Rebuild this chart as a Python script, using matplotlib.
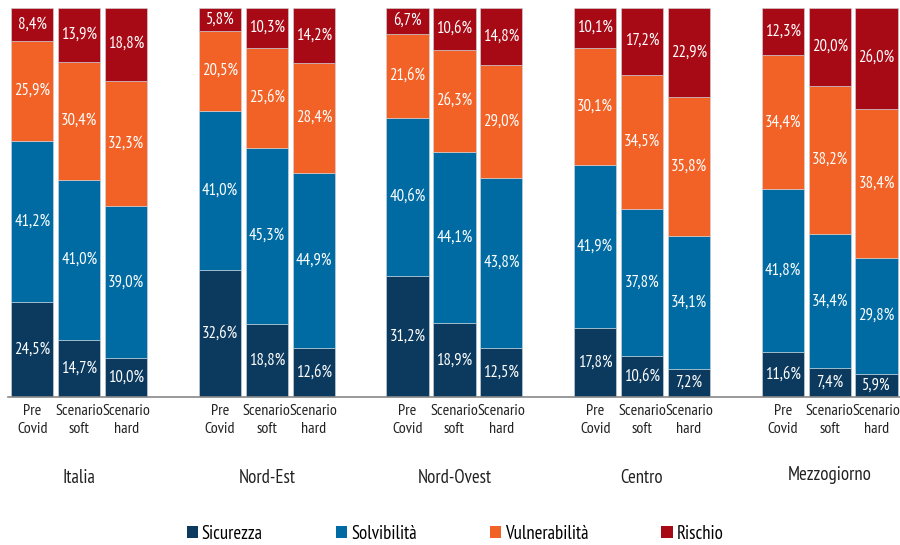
import matplotlib.pyplot as plt
import matplotlib.font_manager as fm
import numpy as np

# font condensato: il primo disponibile
nomi = {f.name for f in fm.fontManager.ttflist}
preferiti = ['PT Sans Narrow', 'Fira Sans Condensed', 'Open Sans Condensed', 'Roboto Condensed',
             'Archivo Narrow', 'Barlow Condensed']
scelto = next((n for n in preferiti if n in nomi), 'DejaVu Sans')
plt.rcParams['font.family'] = [scelto, 'DejaVu Sans']

aree = ['Italia', 'Nord-Est', 'Nord-Ovest', 'Centro', 'Mezzogiorno']
scenari = ['Pre\nCovid', 'Scenario\nsoft', 'Scenario\nhard']
serie = ['Sicurezza', 'Solvibilità', 'Vulnerabilità', 'Rischio']

sicurezza = [24.5, 14.7, 10.0, 32.6, 18.8, 12.6, 31.2, 18.9, 12.5, 17.8, 10.6, 7.2, 11.6, 7.4, 5.9]
solvibilita = [41.2, 41.0, 39.0, 41.0, 45.3, 44.9, 40.6, 44.1, 43.8, 41.9, 37.8, 34.1, 41.8, 34.4, 29.8]
vulnerabilita = [25.9, 30.4, 32.3, 20.5, 25.6, 28.4, 21.6, 26.3, 29.0, 30.1, 34.5, 35.8, 34.4, 38.2, 38.4]
rischio = [8.4, 13.9, 18.8, 5.8, 10.3, 14.2, 6.7, 10.6, 14.8, 10.1, 17.2, 22.9, 12.3, 20.0, 26.0]

colori = ['#0b3a5e', '#006ba3', '#f26125', '#a70a15']

fig = plt.figure(figsize=(9, 5.45), dpi=100)
ax = fig.add_axes([8 / 900, 148 / 545, 892 / 900, 389 / 545])

# posizioni: 3 barre per area, uno spazio vuoto tra le aree
x = np.array([g * 4 + i for g in range(len(aree)) for i in range(3)])
base = np.zeros(len(x))
for nome, vals, col in zip(serie, [sicurezza, solvibilita, vulnerabilita, rischio], colori):
    vals = np.array(vals)
    ax.bar(x, vals, bottom=base, width=0.9, color=col, edgecolor='#d0d8e0',
           linewidth=0.4, label=nome)
    for xi, b, v in zip(x, base, vals):
        ax.text(xi, b + v / 2, f'{v:.1f}%'.replace('.', ','), ha='center', va='center',
                color='white', fontsize=12)
    base += vals

ax.set_xlim(-0.52, 18.5)
ax.set_ylim(0, 100)
ax.set_yticks([])
ax.set_xticks(x)
ax.set_xticklabels(scenari * len(aree), fontsize=11.5, color='#222222', linespacing=1.35)
ax.tick_params(axis='x', length=0, pad=5)
for s in ['top', 'right', 'left']:
    ax.spines[s].set_visible(False)
ax.spines['bottom'].set_color('#888888')
ax.spines['bottom'].set_linewidth(1.2)

for g, nome in enumerate(aree):
    yy = 478 if nome != 'Mezzogiorno' else 475
    ax.text(g * 4 + 1, (545 - yy - 148) / 389, nome, transform=ax.get_xaxis_transform(),
            ha='center', va='center', fontsize=13.5, color='#222222')

leg = fig.legend(loc='center', bbox_to_anchor=(455 / 900, 1 - 534 / 545), ncol=4, frameon=False,
                 fontsize=13.5, handlelength=0.6, handleheight=0.6, handletextpad=0.2,
                 columnspacing=3.9)
for h in leg.legend_handles:
    h.set_edgecolor('none')

fig.savefig('out.png', dpi=100)
